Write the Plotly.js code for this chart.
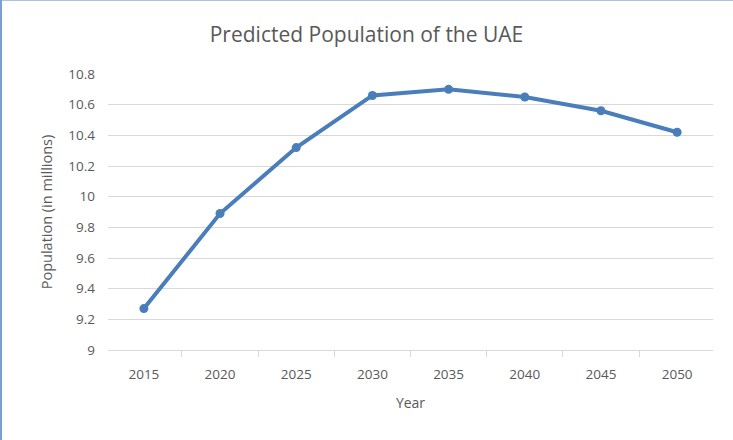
<!DOCTYPE html>
<html><head><meta charset="utf-8">
<script src="https://cdn.plot.ly/plotly-3.0.1.min.js"></script>
<style>
html,body{margin:0;padding:0;background:#fff;}
#wrap{position:relative;width:733px;height:440px;overflow:hidden;}
#wrap:before{content:"";position:absolute;left:0;top:0;width:733px;height:1px;background:#a9c4e6;z-index:5;}
#wrap:after{content:"";position:absolute;left:0;top:0;width:2px;height:440px;background:#7a9fd0;z-index:5;}
#chart{width:733px;height:440px;}
</style></head>
<body><div id="wrap"><div id="chart"></div></div>
<script>
const years = ["2015","2020","2025","2030","2035","2040","2045","2050"];
const population = [9.27, 9.89, 10.32, 10.66, 10.70, 10.65, 10.56, 10.42];
const chartTitle = "Predicted Population of the UAE";
const xTitle = "Year";
const yTitle = "Population (in millions)";

const font = "'Open Sans', 'Liberation Sans', sans-serif";
Plotly.newPlot("chart", [{
  type: "scatter", mode: "lines+markers",
  x: years, y: population,
  line: {color: "#4a7ebb", width: 4},
  marker: {color: "#4a7ebb", size: 9},
  hoverinfo: "skip"
}], {
  width: 733, height: 440,
  margin: {l: 108, r: 20, t: 74, b: 90},
  paper_bgcolor: "#fff", plot_bgcolor: "#fff",
  showlegend: false,
  font: {family: font, color: "#595959"},
  title: {text: chartTitle, x: 0.5, xanchor: "center", y: 0.922, yanchor: "middle",
          font: {family: font, size: 21, color: "#595959"}},
  xaxis: {
    type: "category",
    tickson: "boundaries", ticks: "outside", ticklen: 6, tickcolor: "#d9d9d9",
    showline: true, linecolor: "#d9d9d9", linewidth: 1,
    showgrid: false, zeroline: false,
    ticklabelstandoff: 12,
    tickfont: {size: 13.5, color: "#595959"},
    title: {text: xTitle, font: {size: 14, color: "#595959"}, standoff: 15}
  },
  yaxis: {
    range: [9, 10.8], dtick: 0.2, tick0: 9,
    showgrid: true, gridcolor: "#d9d9d9", gridwidth: 1,
    zeroline: false, showline: false, ticks: "",
    ticklabelstandoff: 12,
    tickfont: {size: 13.5, color: "#595959"},
    title: {text: yTitle, font: {size: 14.5, color: "#595959"}, standoff: 12}
  }
}, {staticPlot: true});
</script></body></html>
